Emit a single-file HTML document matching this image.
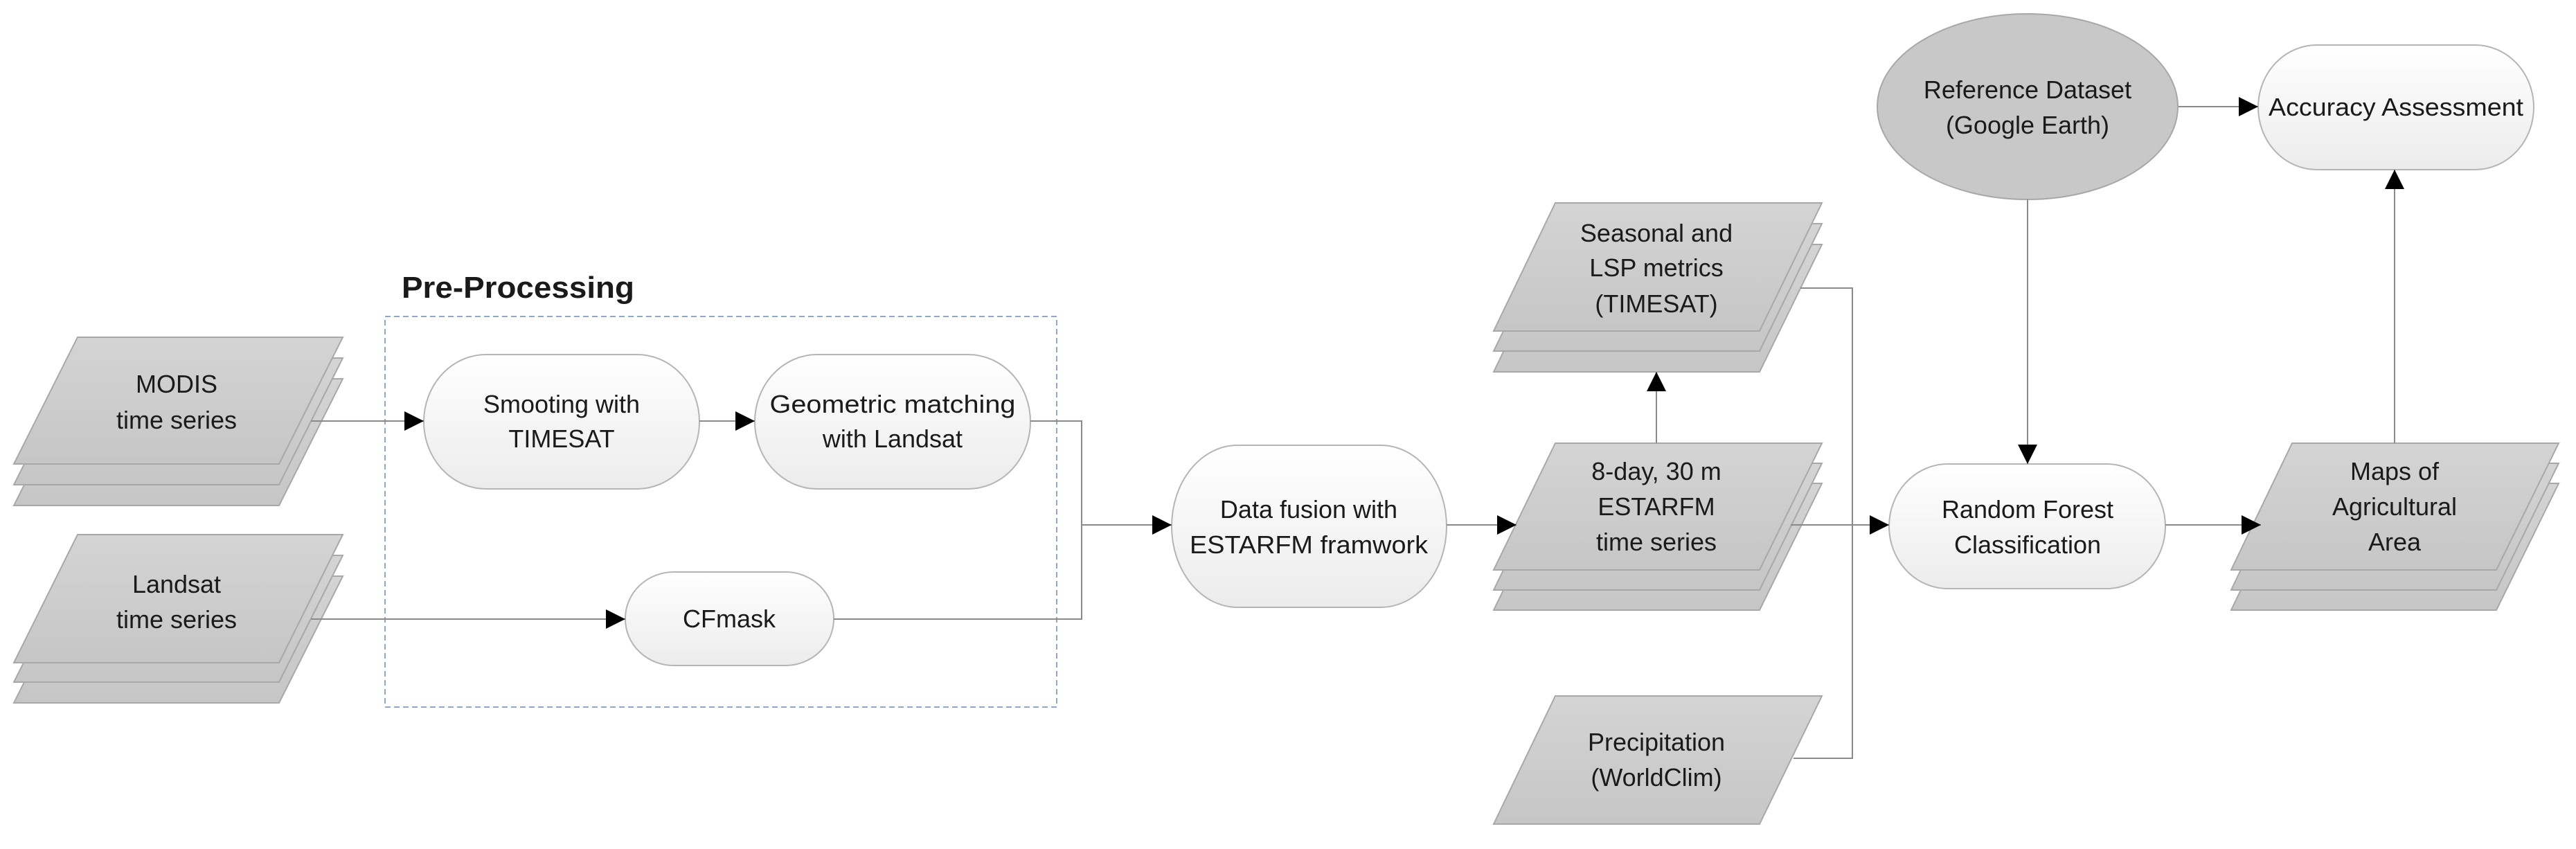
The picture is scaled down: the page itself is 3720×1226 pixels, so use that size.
<!DOCTYPE html>
<html><head><meta charset="utf-8"><style>
html,body{margin:0;padding:0;background:#fff;}
svg{display:block;}
text{font-family:"Liberation Sans",sans-serif;fill:#1a1a1a;}
</style></head><body>
<svg width="3720" height="1226" viewBox="0 0 3720 1226" xmlns="http://www.w3.org/2000/svg">
<defs>
<linearGradient id="rg" x1="0" y1="0" x2="0" y2="1"><stop offset="0" stop-color="#ffffff"/><stop offset="1" stop-color="#ececec"/></linearGradient>
<linearGradient id="sg" x1="0" y1="0" x2="0" y2="1"><stop offset="0" stop-color="#d4d4d4"/><stop offset="1" stop-color="#c6c6c6"/></linearGradient>
<marker id="ah" viewBox="0 0 10 10" refX="10" refY="5" markerWidth="28" markerHeight="28" markerUnits="userSpaceOnUse" orient="auto"><path d="M0,0 L10,5 L0,10 z" fill="#000"/></marker>
<g id="sheet"><path d="M0,0 H0" /></g>
</defs>
<g stroke="#a8a8a8" stroke-width="2" fill="url(#sg)">
<!-- MODIS stack -->
<path d="M112,547 H495 L403,730 H20 Z"/>
<path d="M112,517 H495 L403,700 H20 Z"/>
<path d="M112,487 H495 L403,670 H20 Z"/>
<!-- Landsat stack -->
<path d="M112,832 H495 L403,1015 H20 Z"/>
<path d="M112,802 H495 L403,985 H20 Z"/>
<path d="M112,772 H495 L403,957 H20 Z"/>
<!-- Seasonal -->
<path d="M2246,353 H2631 L2541,537 H2157 Z"/>
<path d="M2246,323 H2631 L2541,507 H2157 Z"/>
<path d="M2246,293 H2631 L2541,478 H2157 Z"/>
<!-- ESTARFM -->
<path d="M2246,698 H2631 L2541,881 H2157 Z"/>
<path d="M2246,669 H2631 L2541,852 H2157 Z"/>
<path d="M2246,640 H2631 L2541,823 H2157 Z"/>
<!-- Precip -->
<path d="M2246,1005 H2631 L2541,1190 H2157 Z"/>
<!-- Maps -->
<path d="M3310,698 H3695 L3605,881 H3222 Z"/>
<path d="M3310,669 H3695 L3605,852 H3222 Z"/>
<path d="M3310,640 H3695 L3605,823 H3222 Z"/>
</g>
<!-- dashed box -->
<rect x="556" y="457" width="970" height="564" fill="none" stroke="#8fa8c8" stroke-width="2" stroke-dasharray="8,5"/>
<text x="580" y="430" font-size="44" font-weight="bold" textLength="336" lengthAdjust="spacingAndGlyphs">Pre-Processing</text>
<!-- rounded nodes -->
<g stroke="#b5b5b5" stroke-width="2" fill="url(#rg)">
<rect x="612" y="512" width="398" height="194" rx="90" ry="97"/>
<rect x="1090" y="512" width="398" height="194" rx="90" ry="97"/>
<rect x="903" y="826" width="301" height="135" rx="70" ry="67"/>
<rect x="1692" y="643" width="397" height="234" rx="95" ry="117"/>
<rect x="2728" y="670" width="399" height="180" rx="85" ry="90"/>
<rect x="3261" y="65" width="398" height="180" rx="85" ry="90"/>
</g>
<ellipse cx="2928" cy="154" rx="217" ry="134" fill="#c8c8c8" stroke="#a8a8a8" stroke-width="2"/>
<!-- connectors -->
<g stroke="#8a8a8a" stroke-width="2" fill="none">
<path d="M449,608 H612" marker-end="url(#ah)"/>
<path d="M1010,608 H1090" marker-end="url(#ah)"/>
<path d="M449,894 H903" marker-end="url(#ah)"/>
<path d="M1488,608 H1562 V894 H1204"/>
<path d="M1562,758 H1692" marker-end="url(#ah)"/>
<path d="M2089,758 H2190" marker-end="url(#ah)"/>
<path d="M2392,640 V537" marker-end="url(#ah)"/>
<path d="M2586,758 H2728" marker-end="url(#ah)"/>
<path d="M2600,416 H2675 V1095 H2590"/>
<path d="M2928,288 V670" marker-end="url(#ah)"/>
<path d="M3146,154 H3261" marker-end="url(#ah)"/>
<path d="M3127,758 H3265" marker-end="url(#ah)"/>
<path d="M3458,640 V245" marker-end="url(#ah)"/>
</g>
<!-- labels -->
<g font-size="36" text-anchor="middle">
<text x="255" y="567">MODIS</text>
<text x="255" y="619">time series</text>
<text x="255" y="856">Landsat</text>
<text x="255" y="907">time series</text>
<text x="811" y="596">Smooting with</text>
<text x="811" y="646">TIMESAT</text>
<text x="1289" y="596" textLength="355" lengthAdjust="spacingAndGlyphs">Geometric matching</text>
<text x="1289" y="646">with Landsat</text>
<text x="1053" y="906">CFmask</text>
<text x="1890" y="748">Data fusion with</text>
<text x="1890" y="799" textLength="344" lengthAdjust="spacingAndGlyphs">ESTARFM framwork</text>
<text x="2392" y="349">Seasonal and</text>
<text x="2392" y="399">LSP metrics</text>
<text x="2392" y="451">(TIMESAT)</text>
<text x="2392" y="693">8-day, 30 m</text>
<text x="2392" y="744">ESTARFM</text>
<text x="2392" y="795">time series</text>
<text x="2392" y="1084">Precipitation</text>
<text x="2392" y="1135">(WorldClim)</text>
<text x="2928" y="142">Reference Dataset</text>
<text x="2928" y="193">(Google Earth)</text>
<text x="3460" y="167" textLength="368" lengthAdjust="spacingAndGlyphs">Accuracy Assessment</text>
<text x="2928" y="748">Random Forest</text>
<text x="2928" y="799">Classification</text>
<text x="3458" y="693">Maps of</text>
<text x="3458" y="744">Agricultural</text>
<text x="3458" y="795">Area</text>
</g>
</svg>
</body></html>
